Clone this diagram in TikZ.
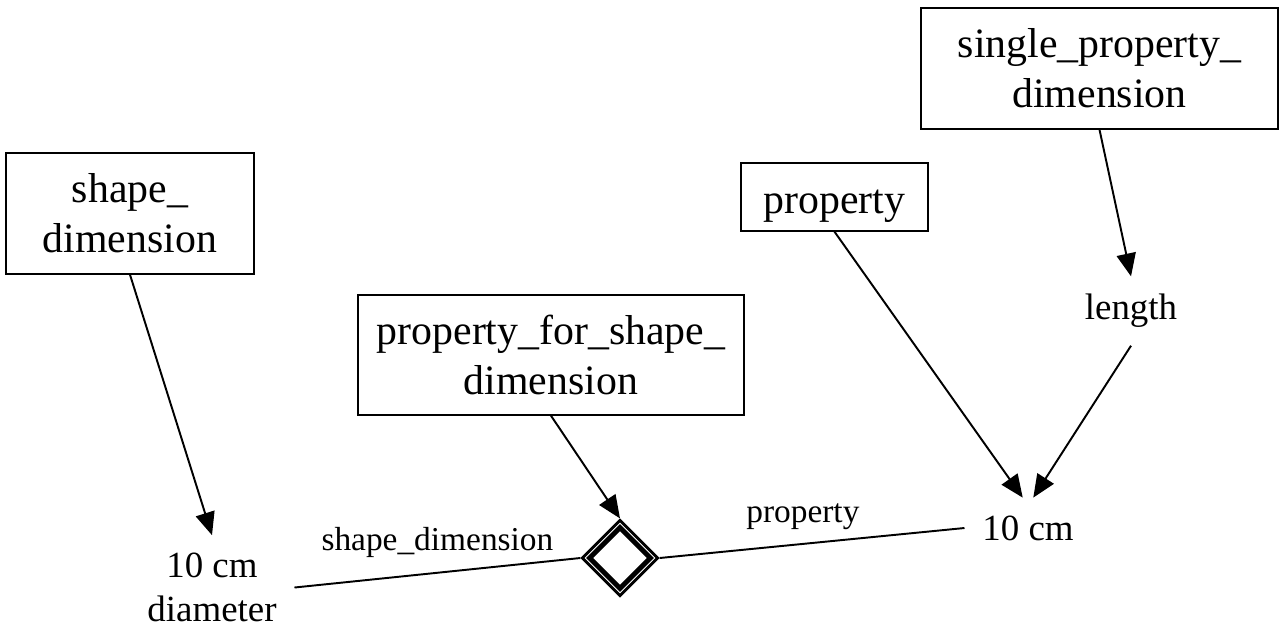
\documentclass[tikz,border=0pt]{standalone}
\usepackage{fontspec}
\setmainfont{Liberation Serif}
\usetikzlibrary{arrows.meta,shapes.geometric}
\begin{document}
\begin{tikzpicture}[x=0.02cm,y=-0.02cm,
box/.style={draw,line width=0.8pt,align=center,font=\fontsize{23.8}{28.4}\selectfont},
lab/.style={align=center,inner sep=10pt,font=\fontsize{21}{25}\selectfont},
elab/.style={font=\fontsize{19}{22}\selectfont},
arr/.style={-{Triangle[length=13pt,width=11pt]},line width=1.1pt},
ln/.style={line width=1.1pt},
dmd/.style={diamond,draw,line width=5.1pt,minimum size=1.405cm,inner sep=0pt}]
\useasboundingbox (0,0) rectangle (1287,630);
\node[box,minimum width=4.96cm,minimum height=2.42cm] (sd) at (130,213.5) {shape\_\\dimension};
\node[box,minimum width=7.72cm,minimum height=2.4cm] (pfsd) at (551,355) {property\_for\_shape\_\\dimension};
\node[box,minimum width=3.74cm,minimum height=1.36cm,inner ysep=1pt,text height=24pt,text depth=5pt] (prop) at (834.5,197) {property};
\node[box,minimum width=7.14cm,minimum height=2.42cm] (spd) at (1099.5,68.5) {single\_property\_\\dimension};
\node[lab] (diam) at (212,587.5) {10 cm\\diameter};
\node[lab] (len) at (1131,311) {length};
\node[lab] (cm) at (1028,528) {10 cm};
\node[dmd] (dm) at (620,558) {};
\node[diamond,draw=white,line width=0.5pt,minimum size=1.397cm,inner sep=0pt] (dmw) at (dm) {};
\draw[arr] (sd.south) -- (diam.north);
\draw[arr] (pfsd.south) -- (dm.north);
\draw[arr] (prop.south) -- ([xshift=-3pt]cm.north);
\draw[arr] (spd.south) -- (len.north);
\draw[arr] (len.south) -- ([xshift=3pt]cm.north);
\draw[ln] (diam.east) -- (dm.west) node[midway,above=5pt,elab] {shape\_dimension};
\draw[ln] (dm.east) -- (cm.west) node[pos=0.47,above=4pt,elab] {property};
\end{tikzpicture}
\end{document}
